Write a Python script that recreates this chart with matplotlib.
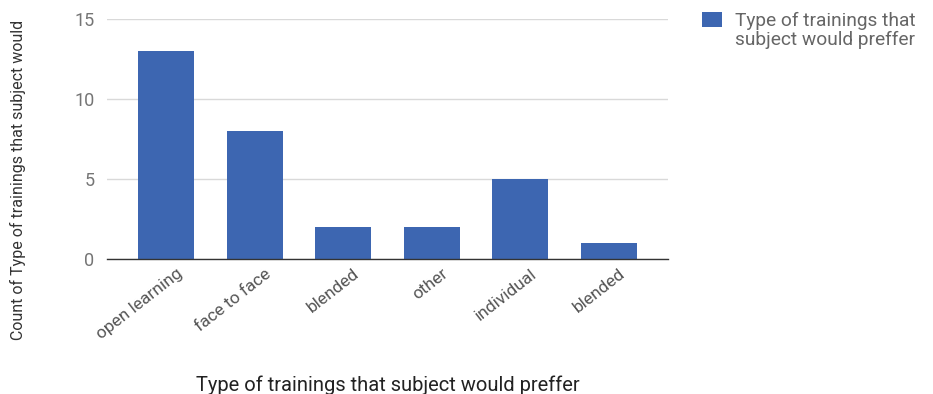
import numpy as np
import matplotlib.pyplot as plt
import matplotlib.transforms as mtransforms
from matplotlib.patches import Rectangle

plt.rcParams["font.family"] = ["Roboto", "DejaVu Sans"]

categories = ["open learning", "face to face", "blended", "other", "individual", "blended"]
counts = [13, 8, 2, 2, 5, 1]
y_ticks = [0, 5, 10, 15]
series_name = "Type of trainings that\nsubject would preffer"

bar_color = "#3d66b1"
W, H = 933, 394

fig = plt.figure(figsize=(W / 100, H / 100), dpi=100)
ax = fig.add_axes([107 / W, 1 - 259 / H, 561 / W, 240 / H])

x = np.arange(len(categories))
ax.bar(x, counts, width=0.63, color=bar_color, zorder=3)

ax.set_xlim(-0.667, len(categories) - 1 + 0.667)
ax.set_ylim(0, 15)
ax.set_yticks(y_ticks)
ax.set_yticklabels([str(v) for v in y_ticks], color="#757575", fontsize=13)
ax.set_xticks(x)
ax.set_xticklabels(categories, rotation=38, ha="right", rotation_mode="anchor",
                   color="#555555", fontsize=12.5)
ax.tick_params(axis="both", length=0)
ax.tick_params(axis="y", pad=9)
ax.tick_params(axis="x", pad=5)

# nudge the slanted category labels so they end just right of each bar centre
shift = mtransforms.ScaledTranslation(10 / 100, 0, fig.dpi_scale_trans)
for lbl in ax.get_xticklabels():
    lbl.set_transform(lbl.get_transform() + shift)

ax.grid(axis="y", color="#d9d9d9", linewidth=1, zorder=0)
for side in ["top", "right", "left"]:
    ax.spines[side].set_visible(False)
ax.spines["bottom"].set_color("#333333")
ax.spines["bottom"].set_linewidth(1)
ax.spines["bottom"].set_zorder(4)

ax.set_xlabel("Type of trainings that subject would preffer", fontsize=14.5,
              color="#222222", labelpad=24)
fig.text(18 / W, 1 - 180 / H, "Count of Type of trainings that subject would",
         rotation=90, ha="center", va="center", fontsize=11.5, color="#333333")

# legend: swatch lined up with the first line of the series name
fig.patches.append(Rectangle((702 / W, 1 - 27 / H), 20 / W, 15 / H,
                             facecolor=bar_color, edgecolor="none",
                             transform=fig.transFigure, figure=fig))
fig.text(735 / W, 1 - 12 / H, series_name, ha="left", va="top",
         fontsize=13.8, color="#666666", linespacing=1.08)

fig.savefig("out.png", dpi=100)
